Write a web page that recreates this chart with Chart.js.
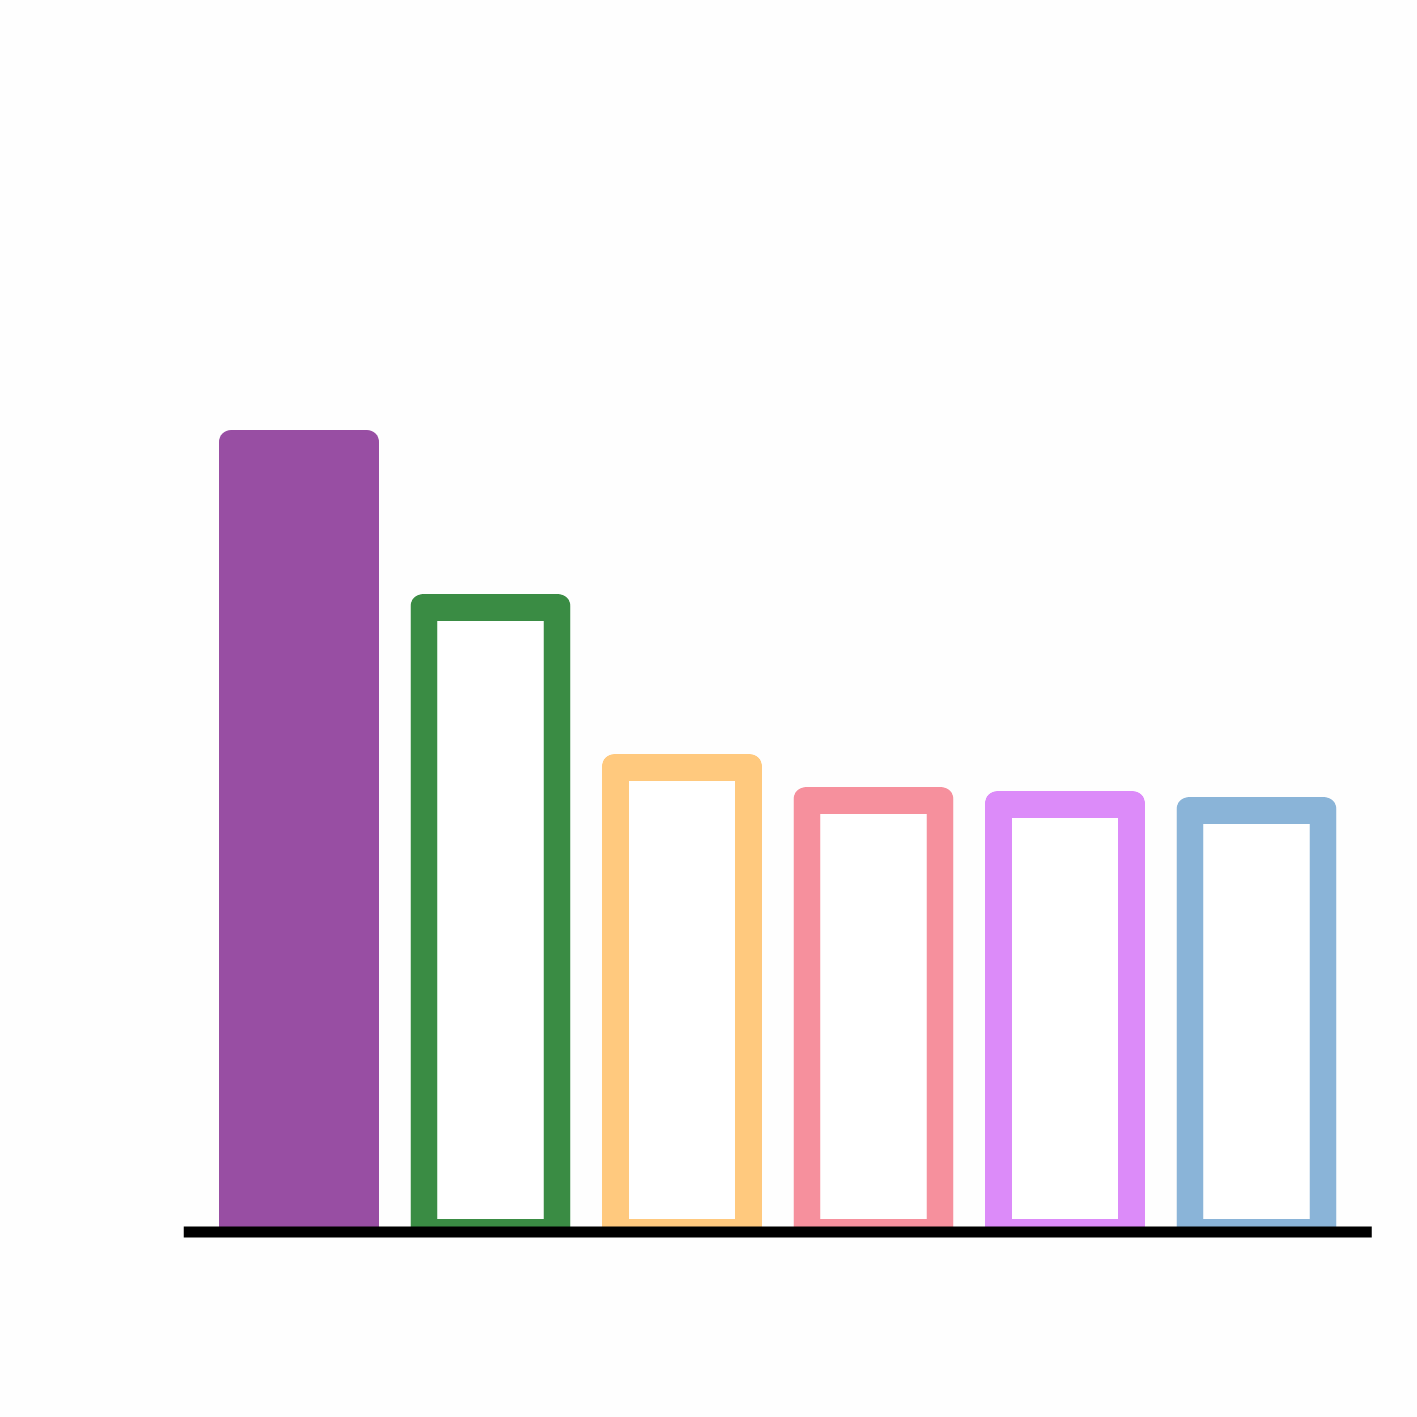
<!DOCTYPE html>
<html>
<head>
<meta charset="utf-8">
<script src="https://cdn.jsdelivr.net/npm/chart.js@4"></script>
<style>
  html, body { margin: 0; padding: 0; background: #fefefe; }
  #wrap { width: 1417px; height: 1417px; }
</style>
</head>
<body>
<div id="wrap"><canvas id="chart"></canvas></div>
<script>
const categories = ["A", "B", "C", "D", "E", "F"];
const values = [80.2, 63.8, 47.8, 44.5, 44.1, 43.5];
const barColors = ["#984ea3", "#3a8c44", "#ffc97e", "#f6909d", "#dc8bf9", "#8ab4d8"];
const filled = [true, false, false, false, false, false];

// x axis line drawn a little wider than the bar bands
const baseLine = {
  id: "baseLine",
  afterDatasetsDraw(chart) {
    const { ctx, chartArea, scales } = chart;
    const y = scales.y.getPixelForValue(0);
    ctx.save();
    ctx.fillStyle = "#000";
    ctx.fillRect(chartArea.left - 19.5, y - 5.5, chartArea.right - chartArea.left + 39, 11);
    ctx.restore();
  }
};

new Chart(document.getElementById("chart"), {
  type: "bar",
  data: {
    labels: categories,
    datasets: [{
      data: values,
      backgroundColor: barColors.map((c, i) => filled[i] ? c : "#ffffff"),
      borderColor: barColors,
      borderWidth: filled.map(f => f ? 0 : { top: 27, left: 27, right: 27, bottom: 13 }),
      borderSkipped: false,
      borderRadius: { topLeft: 12, topRight: 12, bottomLeft: 0, bottomRight: 0 },
      barPercentage: 0.8355,
      categoryPercentage: 1
    }]
  },
  options: {
    responsive: true,
    maintainAspectRatio: false,
    animation: false,
    layout: { padding: { left: 203.25, right: 64.75, top: 232, bottom: 185 } },
    plugins: { legend: { display: false }, tooltip: { enabled: false } },
    scales: {
      x: { display: false },
      y: { display: false, min: 0, max: 100 }
    }
  },
  plugins: [baseLine]
});
</script>
</body>
</html>
